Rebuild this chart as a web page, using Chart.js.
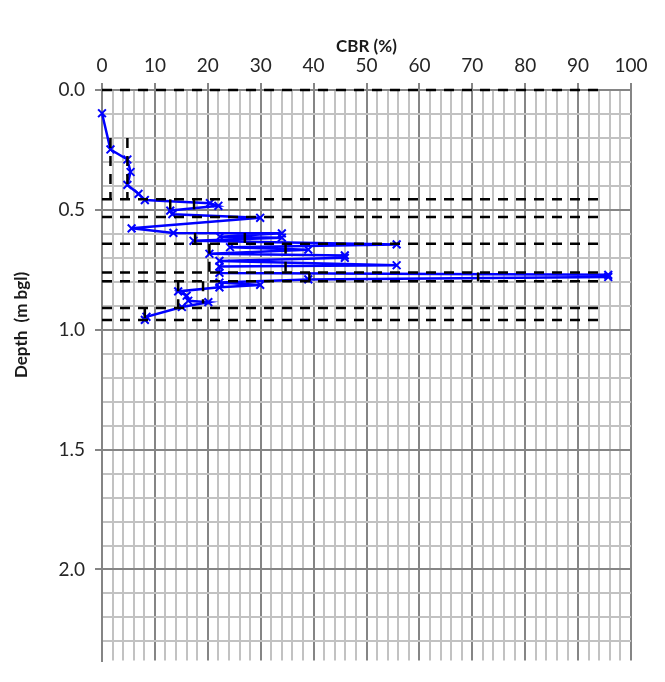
<!DOCTYPE html>
<html>
<head>
<meta charset="utf-8">
<script src="https://cdn.jsdelivr.net/npm/chart.js@4/dist/chart.umd.min.js"></script>
<style>
  body { margin: 0; background: #fff; }
  canvas { display: block; }
</style>
</head>
<body>
<canvas id="myChartDepth" width="665" height="682"></canvas>
<script>
// DCP profile
const cbr   = [0, 1.6, 4.8, 5.4, 4.8, 6.9, 8.1, 20.4, 22.0, 12.9, 13.3, 29.9, 5.6, 13.5, 34.0, 22.3, 34.0, 17.3, 55.7, 24.2, 39.0, 20.3, 45.9, 45.9, 22.2, 55.7, 22.2, 22.2, 95.7, 95.7, 39.0, 22.2, 29.9, 22.2, 14.4, 16.0, 16.3, 20.1, 15.1, 8.4, 8.1]
const depth = [0.097, 0.248, 0.290, 0.342, 0.396, 0.433, 0.459, 0.472, 0.483, 0.503, 0.518, 0.533, 0.577, 0.596, 0.598, 0.612, 0.616, 0.629, 0.644, 0.656, 0.666, 0.683, 0.690, 0.700, 0.713, 0.731, 0.736, 0.763, 0.771, 0.780, 0.790, 0.803, 0.813, 0.823, 0.840, 0.858, 0.879, 0.885, 0.905, 0.946, 0.959]

// layer boundaries (horizontal dashed lines) and layer CBR steps (vertical dashed)
const layerDepths = [0, 0.456, 0.53, 0.641, 0.761, 0.798, 0.909, 0.959]
const boundaryCbr = [0, 95]
const stepCbr    = [1.6, 4.8, 12.9, 17.4, 17.6, 27.0, 20.3, 34.7, 39.2, 71.1, 14.4, 19.1, 8.1]
const stepTop    = [0.20, 0.20, 0.456, 0.456, 0.596, 0.596, 0.641, 0.641, 0.761, 0.761, 0.798, 0.798, 0.909]
const stepBottom = [0.456, 0.456, 0.53, 0.53, 0.641, 0.641, 0.761, 0.761, 0.798, 0.798, 0.909, 0.89, 0.959]

const dashed = (pts) => ({
    data: pts,
    showLine: true,
    borderColor: '#000',
    borderWidth: 2.5,
    borderDash: [10, 8],
    pointRadius: 0,
    clip: false,
    order: 0,
})

let datasets = [{
    label: 'CBR',
    data: cbr.map((v, i) => ({x: v, y: depth[i]})),
    showLine: true,
    borderColor: '#0000ff',
    backgroundColor: '#0000ff',
    borderWidth: 2.5,
    pointStyle: 'crossRot',
    pointRadius: 5.5,
    pointBorderWidth: 2,
    pointBorderColor: '#0000ff',
    clip: false,
    order: 1,
}]
layerDepths.forEach(d => datasets.push(dashed(boundaryCbr.map(v => ({x: v, y: d})))))
stepCbr.forEach((v, i) => datasets.push(dashed([{x: v, y: stepTop[i]}, {x: v, y: stepBottom[i]}])))

const isMajorX = v => Math.round(v) % 10 === 0
const isMajorY = v => Math.round(v * 10) % 5 === 0
const font = {family: 'Lato', size: 19}

const titles = {
    id: 'titles',
    afterDraw(chart) {
        const c = chart.ctx
        const a = chart.chartArea
        c.save()
        c.fillStyle = '#1a1a1a'
        c.font = 'bold 17px Lato'
        c.textAlign = 'center'
        c.textBaseline = 'middle'
        c.fillText('CBR (%)', (a.left + a.right) / 2, 47)
        c.translate(22, 325)
        c.rotate(-Math.PI / 2)
        c.fillText('Depth  (m bgl)', 0, 0)
        c.restore()
    }
}

let depthChart = new Chart(document.getElementById('myChartDepth'), {
    type: 'scatter',
    data: { datasets },
    options: {
        responsive: false,
        animation: false,
        layout: { padding: {left: 0, right: 34, top: 0, bottom: 0} },
        plugins: {
            legend: {display: false},
            tooltip: {enabled: false}
        },
        scales: {
            x: {
                type: 'linear',
                position: 'top',
                min: 0, max: 100,
                afterFit: s => { s.height = 90 },
                ticks: {
                    stepSize: 2, autoSkip: false, maxRotation: 0,
                    padding: 6, font, color: '#262626',
                    callback: v => isMajorX(v) ? v : ''
                },
                grid: {
                    lineWidth: 2,
                    tickLength: 7,
                    color: ctx => isMajorX(ctx.tick.value) ? '#858585' : '#c2c2c2',
                    tickColor: ctx => isMajorX(ctx.tick.value) ? '#858585' : 'rgba(0,0,0,0)'
                },
                border: {color: '#858585', width: 2}
            },
            y: {
                type: 'linear',
                reverse: true,
                min: 0, max: 2.38,
                afterFit: s => { s.width = 102 },
                ticks: {
                    stepSize: 0.1, includeBounds: false, autoSkip: false,
                    padding: 10, font, color: '#262626',
                    callback: v => isMajorY(v) ? v.toFixed(1) : ''
                },
                grid: {
                    lineWidth: 2,
                    tickLength: 7,
                    color: ctx => isMajorY(ctx.tick.value) ? '#858585' : '#c2c2c2',
                    tickColor: ctx => isMajorY(ctx.tick.value) ? '#858585' : 'rgba(0,0,0,0)'
                },
                border: {color: '#858585', width: 2}
            }
        }
    },
    plugins: [titles]
})
</script>
</body>
</html>
